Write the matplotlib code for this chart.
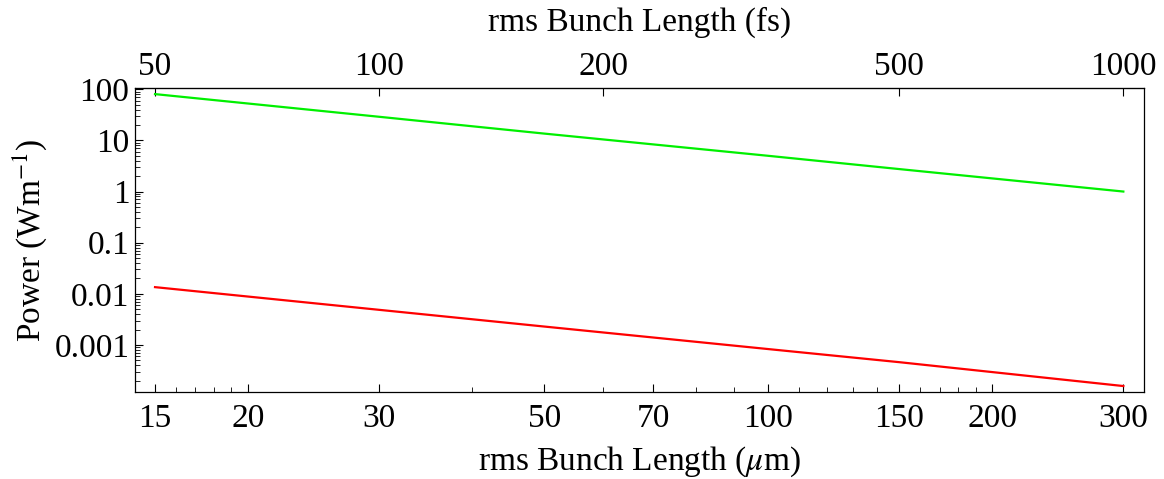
import numpy as np
import matplotlib
matplotlib.use("Agg")
import matplotlib.pyplot as plt
from matplotlib.ticker import FixedLocator, LogLocator, NullFormatter, NullLocator

plt.rcParams['font.family'] = ['Liberation Serif', 'DejaVu Serif']
plt.rcParams['mathtext.fontset'] = 'stix'

# bunch length in um, power in W/m
bunch_um = [15, 30, 50, 100, 150, 300]
power_green = [80.5, 29.0, 13.6, 5.0, 2.75, 1.0]
power_red = [0.0135, 0.00486, 0.00229, 0.00083, 0.00046, 0.000157]

bottom_major = [15, 20, 30, 50, 70, 100, 150, 200, 300]
bottom_minor = [16, 17, 18, 19, 40, 60, 80, 90, 110, 120, 130, 140, 160, 170, 180, 190]
top_major = [50, 100, 200, 500, 1000]
y_major = [100, 10, 1, 0.1, 0.01, 0.001]
y_labels = ['100', '10', '1', '0.1', '0.01', '0.001']

C_UM_PER_FS = 0.3

fig = plt.figure(figsize=(11.64, 4.79), dpi=100)
ax = fig.add_axes([0.116, 0.1816, 0.867, 0.6347])

ax.plot(bunch_um, power_green, color='#00f000', lw=1.6)
ax.plot(bunch_um, power_red, color='#ff0000', lw=1.6)

ax.set_xscale('log')
ax.set_yscale('log')
ax.set_xlim(14.1, 320)
ax.set_ylim(1.2e-4, 106)

ax.xaxis.set_major_locator(FixedLocator(bottom_major))
ax.xaxis.set_minor_locator(FixedLocator(bottom_minor))
ax.xaxis.set_minor_formatter(NullFormatter())
ax.set_xticklabels([str(v) for v in bottom_major])
ax.yaxis.set_major_locator(FixedLocator(y_major))
ax.yaxis.set_minor_locator(LogLocator(base=10, subs=np.arange(2, 10), numticks=20))
ax.yaxis.set_minor_formatter(NullFormatter())
ax.set_yticklabels(y_labels)

ax.tick_params(which='both', direction='in', labelsize=24, top=False, right=False)
ax.tick_params(which='major', length=6, width=0.8)
ax.tick_params(which='minor', length=3.5, width=0.6)
ax.tick_params(axis='x', pad=8)
ax.tick_params(axis='y', pad=4)
for s in ax.spines.values():
    s.set_linewidth(0.9)

ax.set_xlabel(r'rms Bunch Length ($\mu$m)', fontsize=24, labelpad=8)
ax.set_ylabel(r'Power (Wm$^{-1}$)', fontsize=24, labelpad=4)

top = ax.secondary_xaxis('top', functions=(lambda x: x / C_UM_PER_FS, lambda t: t * C_UM_PER_FS))
top.xaxis.set_major_locator(FixedLocator(top_major))
top.xaxis.set_minor_locator(NullLocator())
top.set_xticklabels([str(v) for v in top_major])
top.tick_params(which='both', direction='in', labelsize=24, length=6, width=0.8, pad=4)
top.set_xlabel('rms Bunch Length (fs)', fontsize=24, labelpad=15)

fig.savefig('out.png', dpi=100)
